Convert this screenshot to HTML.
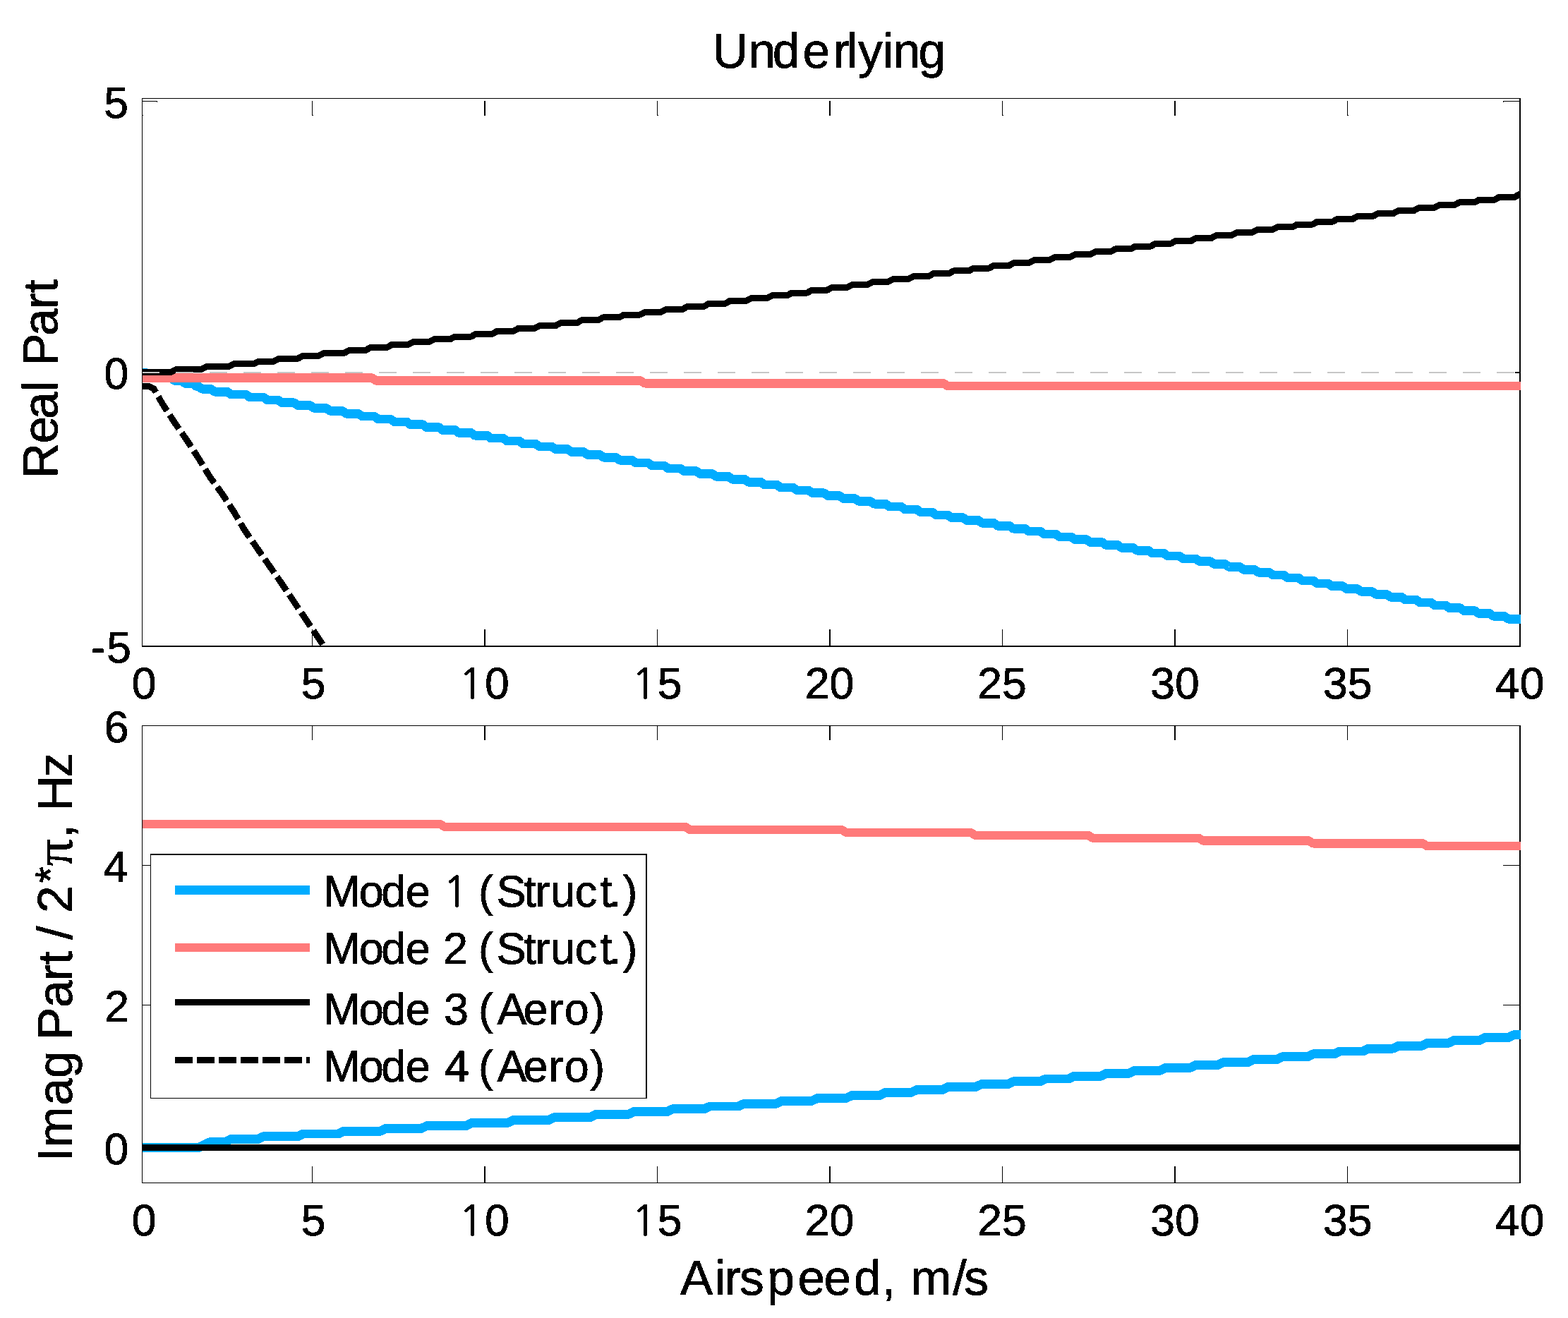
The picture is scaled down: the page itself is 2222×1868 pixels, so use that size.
<!DOCTYPE html>
<html lang="en"><head><meta charset="utf-8"><title>Underlying</title>
<style>html,body{margin:0;padding:0;background:#fff}body{width:2222px;height:1868px;overflow:hidden}svg{display:block}</style></head>
<body>
<svg width="2222" height="1868" viewBox="0 0 2222 1868" text-rendering="geometricPrecision">
<rect width="2222" height="1868" fill="#fff"/>
<defs><clipPath id="c1"><rect x="202" y="140" width="1953" height="777"/></clipPath><clipPath id="c2"><rect x="202" y="1029" width="1953" height="648"/></clipPath><filter id="bw" x="0" y="0" width="2222" height="1868" filterUnits="userSpaceOnUse" color-interpolation-filters="sRGB"><feComponentTransfer><feFuncA type="discrete" tableValues="0 1"/></feComponentTransfer></filter></defs>
<g shape-rendering="crispEdges">
<rect x="201" y="139" width="1954" height="1" fill="#000"/>
<rect x="2153" y="139" width="2" height="778" fill="#000"/>
<rect x="201" y="915" width="1954" height="2" fill="#000"/>
<rect x="442" y="143" width="1" height="21" fill="#000"/>
<rect x="442" y="892" width="1" height="23" fill="#000"/>
<rect x="686" y="143" width="2" height="21" fill="#000"/>
<rect x="686" y="892" width="2" height="23" fill="#000"/>
<rect x="931" y="143" width="1" height="21" fill="#000"/>
<rect x="931" y="892" width="1" height="23" fill="#000"/>
<rect x="1175" y="143" width="2" height="21" fill="#000"/>
<rect x="1175" y="892" width="2" height="23" fill="#000"/>
<rect x="1420" y="143" width="1" height="21" fill="#000"/>
<rect x="1420" y="892" width="1" height="23" fill="#000"/>
<rect x="1664" y="143" width="2" height="21" fill="#000"/>
<rect x="1664" y="892" width="2" height="23" fill="#000"/>
<rect x="1909" y="143" width="1" height="21" fill="#000"/>
<rect x="1909" y="892" width="1" height="23" fill="#000"/>
<rect x="202" y="163" width="1" height="1" fill="#000"/>
<rect x="443" y="163" width="1" height="1" fill="#000"/>
<rect x="932" y="163" width="1" height="1" fill="#000"/>
<rect x="1421" y="163" width="1" height="1" fill="#000"/>
<rect x="1910" y="163" width="1" height="1" fill="#000"/>
<rect x="201" y="143" width="22" height="1" fill="#000"/>
<rect x="2130" y="143" width="23" height="1" fill="#000"/>
<rect x="222" y="144" width="1" height="1" fill="#000"/>
<rect x="2130" y="144" width="1" height="1" fill="#000"/>
</g>
<g clip-path="url(#c1)" shape-rendering="crispEdges">
<polyline points="201.0,528.0 206.3,528.0 211.7,531.9 224.3,531.9 229.7,535.8 242.3,535.8 247.7,539.6 257.4,539.6 262.6,543.5 272.9,543.5 278.1,547.4 280.9,547.4 286.1,551.3 298.9,551.3 304.1,555.2 322.1,555.2 327.3,559.0 348.4,559.0 353.6,562.9 373.4,562.9 378.6,566.8 393.9,566.8 399.1,570.7 416.7,570.7 421.9,574.6 439.5,574.6 444.8,578.4 462.3,578.4 467.6,582.3 485.1,582.3 490.4,586.2 507.9,586.2 513.2,590.1 530.7,590.1 536.0,594.0 553.5,594.0 558.8,597.8 576.3,597.8 581.6,601.7 599.1,601.7 604.4,605.6 621.9,605.6 627.2,609.5 644.7,609.5 650.0,613.4 667.5,613.4 672.8,617.2 690.3,617.2 695.6,621.1 713.1,621.1 718.4,625.0 735.9,625.0 741.2,628.9 758.8,628.9 764.1,632.8 781.6,632.8 786.9,636.6 804.4,636.6 809.7,640.5 827.2,640.5 832.5,644.4 850.0,644.4 855.3,648.3 872.8,648.3 878.1,652.2 895.6,652.2 900.9,656.0 918.4,656.0 923.7,659.9 941.2,659.9 946.5,663.8 964.0,663.8 969.3,667.7 986.8,667.7 992.1,671.6 1009.6,671.6 1014.9,675.4 1032.4,675.4 1037.7,679.3 1055.2,679.3 1060.5,683.2 1078.0,683.2 1083.3,687.1 1100.8,687.1 1106.2,691.0 1123.8,691.0 1129.2,694.8 1145.7,694.8 1151.0,698.7 1167.6,698.7 1172.9,702.6 1189.5,702.6 1194.8,706.5 1211.4,706.5 1216.7,710.4 1233.3,710.4 1238.6,714.2 1255.2,714.2 1260.5,718.1 1277.1,718.1 1282.4,722.0 1299.0,722.0 1304.3,725.9 1320.9,725.9 1326.2,729.8 1342.8,729.8 1348.1,733.6 1364.7,733.6 1370.0,737.5 1386.6,737.5 1391.9,741.4 1408.5,741.4 1413.8,745.3 1430.4,745.3 1435.7,749.2 1452.3,749.2 1457.6,753.0 1474.2,753.0 1479.5,756.9 1496.1,756.9 1501.4,760.8 1518.0,760.8 1523.3,764.7 1539.9,764.7 1545.2,768.6 1561.8,768.6 1567.1,772.4 1583.7,772.4 1589.0,776.3 1605.6,776.3 1610.9,780.2 1627.5,780.2 1632.8,784.1 1649.4,784.1 1654.7,788.0 1671.2,788.0 1676.6,791.8 1694.5,791.8 1699.9,795.7 1715.4,795.7 1720.7,799.6 1736.2,799.6 1741.5,803.5 1757.0,803.5 1762.3,807.4 1777.8,807.4 1783.1,811.2 1798.6,811.2 1803.9,815.1 1819.4,815.1 1824.7,819.0 1840.2,819.0 1845.6,822.9 1861.1,822.9 1866.4,826.8 1881.9,826.8 1887.2,830.6 1902.7,830.6 1908.0,834.5 1923.5,834.5 1928.8,838.4 1944.3,838.4 1949.6,842.3 1965.1,842.3 1970.4,846.2 1986.0,846.2 1991.3,850.0 2006.8,850.0 2012.1,853.9 2027.6,853.9 2032.9,857.8 2048.4,857.8 2053.7,861.7 2069.2,861.7 2074.5,865.6 2090.0,865.6 2095.3,869.4 2110.8,869.4 2116.1,873.3 2131.7,873.3 2137.0,877.2 2156.0,877.2" fill="none" stroke="#00acff" stroke-width="12.6" stroke-linejoin="round" stroke-linecap="butt"/>
<polyline points="201.0,535.6 527.0,535.6 533.0,539.5 907.5,539.5 913.5,543.3 1337.0,543.3 1343.0,547.2 2156.0,547.2" fill="none" stroke="#ff7a7a" stroke-width="12.4" stroke-linejoin="round" stroke-linecap="butt"/>
<polyline points="201.0,527.5 242.5,527.5 249.5,523.6 285.1,523.6 292.1,519.7 323.7,519.7 330.7,515.9 359.5,515.9 366.5,512.0 388.5,512.0 395.5,508.1 422.5,508.1 429.5,504.2 452.0,504.2 459.0,500.3 488.0,500.3 495.0,496.5 518.0,496.5 525.0,492.6 547.9,492.6 554.9,488.7 577.9,488.7 584.9,484.8 607.8,484.8 614.8,480.9 637.8,480.9 644.8,477.1 667.7,477.1 674.7,473.2 697.7,473.2 704.7,469.3 727.6,469.3 734.6,465.4 757.6,465.4 764.6,461.5 787.5,461.5 794.5,457.7 817.5,457.7 824.5,453.8 847.5,453.8 854.5,449.9 877.4,449.9 884.4,446.0 907.4,446.0 914.4,442.1 937.3,442.1 944.3,438.3 967.3,438.3 974.3,434.4 997.2,434.4 1004.2,430.5 1027.2,430.5 1034.2,426.6 1057.1,426.6 1064.1,422.7 1087.1,422.7 1094.1,418.9 1115.2,418.9 1122.2,415.0 1143.8,415.0 1150.8,411.1 1172.5,411.1 1179.5,407.2 1201.1,407.2 1208.1,403.3 1229.8,403.3 1236.8,399.5 1258.4,399.5 1265.4,395.6 1287.1,395.6 1294.1,391.7 1315.7,391.7 1322.7,387.8 1344.4,387.8 1351.4,383.9 1373.0,383.9 1380.0,380.1 1401.7,380.1 1408.7,376.2 1430.3,376.2 1437.3,372.3 1459.0,372.3 1466.0,368.4 1487.6,368.4 1494.6,364.5 1516.3,364.5 1523.3,360.7 1544.9,360.7 1551.9,356.8 1573.6,356.8 1580.6,352.9 1602.2,352.9 1609.2,349.0 1630.8,349.0 1637.8,345.1 1659.5,345.1 1666.5,341.3 1688.1,341.3 1695.1,337.4 1716.8,337.4 1723.8,333.5 1745.4,333.5 1752.4,329.6 1774.1,329.6 1781.1,325.7 1802.7,325.7 1809.7,321.9 1831.4,321.9 1838.4,318.0 1860.0,318.0 1867.0,314.1 1888.7,314.1 1895.7,310.2 1917.3,310.2 1924.3,306.3 1946.0,306.3 1953.0,302.5 1974.6,302.5 1981.6,298.6 2003.3,298.6 2010.3,294.7 2031.9,294.7 2038.9,290.8 2060.6,290.8 2067.6,286.9 2089.2,286.9 2096.2,283.1 2117.9,283.1 2124.9,279.2 2146.5,279.2 2153.5,275.3 2156.0,275.3" fill="none" stroke="#000" stroke-width="9" stroke-linejoin="round" stroke-linecap="butt"/>
<polyline points="201.0,547.0 211.0,547.5 218.0,551.0 230.3,572.5 247.2,598.6 264.7,623.7 281.5,649.7 297.6,676.2 315.5,700.9 331.9,726.2 346.6,751.3 400.2,828.5 458.4,915.0 465.0,925.0" fill="none" stroke="#000" stroke-width="9" stroke-linejoin="round" stroke-linecap="butt" stroke-dasharray="23.6 7"/>
</g>
<g shape-rendering="crispEdges">
<rect x="202" y="527" width="24" height="2" fill="#c6c6c6"/>
<rect x="249" y="527" width="25" height="2" fill="#c6c6c6"/>
<rect x="297" y="527" width="25" height="2" fill="#c6c6c6"/>
<rect x="345" y="527" width="25" height="2" fill="#c6c6c6"/>
<rect x="393" y="527" width="25" height="2" fill="#c6c6c6"/>
<rect x="441" y="527" width="25" height="2" fill="#c6c6c6"/>
<rect x="489" y="527" width="25" height="2" fill="#c6c6c6"/>
<rect x="537" y="527" width="25" height="2" fill="#c6c6c6"/>
<rect x="585" y="527" width="25" height="2" fill="#c6c6c6"/>
<rect x="633" y="527" width="25" height="2" fill="#c6c6c6"/>
<rect x="681" y="527" width="25" height="2" fill="#c6c6c6"/>
<rect x="729" y="527" width="25" height="2" fill="#c6c6c6"/>
<rect x="777" y="527" width="25" height="2" fill="#c6c6c6"/>
<rect x="825" y="527" width="25" height="2" fill="#c6c6c6"/>
<rect x="873" y="527" width="25" height="2" fill="#c6c6c6"/>
<rect x="921" y="527" width="25" height="2" fill="#c6c6c6"/>
<rect x="969" y="527" width="25" height="2" fill="#c6c6c6"/>
<rect x="1017" y="527" width="25" height="2" fill="#c6c6c6"/>
<rect x="1065" y="527" width="25" height="2" fill="#c6c6c6"/>
<rect x="1113" y="527" width="25" height="2" fill="#c6c6c6"/>
<rect x="1161" y="527" width="25" height="2" fill="#c6c6c6"/>
<rect x="1209" y="527" width="25" height="2" fill="#c6c6c6"/>
<rect x="1257" y="527" width="25" height="2" fill="#c6c6c6"/>
<rect x="1305" y="527" width="25" height="2" fill="#c6c6c6"/>
<rect x="1353" y="527" width="25" height="2" fill="#c6c6c6"/>
<rect x="1401" y="527" width="25" height="2" fill="#c6c6c6"/>
<rect x="1449" y="527" width="25" height="2" fill="#c6c6c6"/>
<rect x="1497" y="527" width="25" height="2" fill="#c6c6c6"/>
<rect x="1545" y="527" width="25" height="2" fill="#c6c6c6"/>
<rect x="1593" y="527" width="25" height="2" fill="#c6c6c6"/>
<rect x="1641" y="527" width="25" height="2" fill="#c6c6c6"/>
<rect x="1689" y="527" width="25" height="2" fill="#c6c6c6"/>
<rect x="1737" y="527" width="25" height="2" fill="#c6c6c6"/>
<rect x="1785" y="527" width="25" height="2" fill="#c6c6c6"/>
<rect x="1833" y="527" width="25" height="2" fill="#c6c6c6"/>
<rect x="1881" y="527" width="25" height="2" fill="#c6c6c6"/>
<rect x="1929" y="527" width="25" height="2" fill="#c6c6c6"/>
<rect x="1977" y="527" width="25" height="2" fill="#c6c6c6"/>
<rect x="2025" y="527" width="25" height="2" fill="#c6c6c6"/>
<rect x="2073" y="527" width="25" height="2" fill="#c6c6c6"/>
<rect x="2121" y="527" width="25" height="2" fill="#c6c6c6"/>
<rect x="2147" y="527" width="6" height="2" fill="#000"/>
<rect x="201" y="139" width="1" height="778" fill="#000"/>
</g>
<g shape-rendering="crispEdges">
<rect x="201" y="1028" width="1954" height="1" fill="#000"/>
<rect x="2153" y="1028" width="2" height="649" fill="#000"/>
<rect x="201" y="1676" width="1954" height="1" fill="#000"/>
<rect x="442" y="1028" width="1" height="21" fill="#000"/>
<rect x="442" y="1653" width="1" height="23" fill="#000"/>
<rect x="686" y="1028" width="2" height="21" fill="#000"/>
<rect x="686" y="1653" width="2" height="23" fill="#000"/>
<rect x="931" y="1028" width="1" height="21" fill="#000"/>
<rect x="931" y="1653" width="1" height="23" fill="#000"/>
<rect x="1175" y="1028" width="2" height="21" fill="#000"/>
<rect x="1175" y="1653" width="2" height="23" fill="#000"/>
<rect x="1420" y="1028" width="1" height="21" fill="#000"/>
<rect x="1420" y="1653" width="1" height="23" fill="#000"/>
<rect x="1664" y="1028" width="2" height="21" fill="#000"/>
<rect x="1664" y="1653" width="2" height="23" fill="#000"/>
<rect x="1909" y="1028" width="1" height="21" fill="#000"/>
<rect x="1909" y="1653" width="1" height="23" fill="#000"/>
<rect x="201" y="1226" width="22" height="1" fill="#000"/>
<rect x="2130" y="1226" width="23" height="1" fill="#000"/>
<rect x="201" y="1424" width="22" height="1" fill="#000"/>
<rect x="2130" y="1424" width="23" height="1" fill="#000"/>
</g>
<g clip-path="url(#c2)" shape-rendering="crispEdges">
<polyline points="201.0,1626.5 281.5,1626.5 289.5,1622.6 289.5,1622.6 297.5,1618.7 318.5,1618.7 326.5,1614.8 365.0,1614.8 373.0,1610.9 421.5,1610.9 429.5,1607.0 479.6,1607.0 487.6,1603.1 539.5,1603.1 547.5,1599.2 597.5,1599.2 605.5,1595.3 661.0,1595.3 669.0,1591.4 719.5,1591.4 727.5,1587.5 777.6,1587.5 785.6,1583.6 836.0,1583.6 844.0,1579.7 889.7,1579.7 897.7,1575.8 944.6,1575.8 952.6,1571.9 998.0,1571.9 1006.0,1568.0 1046.8,1568.0 1054.8,1564.1 1100.2,1564.1 1108.2,1560.2 1150.6,1560.2 1158.6,1556.3 1199.4,1556.3 1207.4,1552.4 1246.6,1552.4 1254.6,1548.5 1291.0,1548.5 1299.0,1544.6 1335.0,1544.6 1343.0,1540.7 1382.4,1540.7 1390.4,1536.8 1428.0,1536.8 1436.0,1532.9 1474.0,1532.9 1482.0,1529.0 1514.3,1529.0 1522.3,1525.1 1560.5,1525.1 1568.5,1521.2 1599.8,1521.2 1607.8,1517.3 1643.8,1517.3 1651.8,1513.4 1686.3,1513.4 1694.3,1509.5 1725.6,1509.5 1733.6,1505.6 1768.1,1505.6 1776.1,1501.7 1809.0,1501.7 1817.0,1497.8 1853.0,1497.8 1861.0,1493.9 1890.8,1493.9 1898.8,1490.0 1931.7,1490.0 1939.7,1486.1 1974.1,1486.1 1982.1,1482.2 2015.0,1482.2 2023.0,1478.3 2052.8,1478.3 2060.8,1474.4 2096.8,1474.4 2104.8,1470.5 2137.7,1470.5 2145.7,1466.6 2156.0,1466.6" fill="none" stroke="#00acff" stroke-width="12.9" stroke-linejoin="round" stroke-linecap="butt"/>
<polyline points="201.0,1168.1 624.0,1168.1 630.0,1172.0 971.6,1172.0 977.6,1175.9 1192.7,1175.9 1198.7,1179.8 1375.5,1179.8 1381.5,1183.7 1542.0,1183.7 1548.0,1187.6 1698.6,1187.6 1704.6,1191.5 1854.8,1191.5 1860.8,1195.4 2016.4,1195.4 2022.4,1199.3 2156.0,1199.3" fill="none" stroke="#ff7a7a" stroke-width="12.2" stroke-linejoin="round" stroke-linecap="butt"/>
<polyline points="201.0,1626.5 2155.0,1626.5" fill="none" stroke="#000" stroke-width="9" stroke-linejoin="round" stroke-linecap="butt"/>
</g>
<g shape-rendering="crispEdges">
<rect x="201" y="1028" width="1" height="649" fill="#000"/>
<rect x="213" y="1210" width="704" height="347" fill="#000"/>
<rect x="214" y="1212" width="701" height="344" fill="#fff"/>
<rect x="248" y="1255" width="191" height="13" fill="#00acff"/>
<rect x="248" y="1337" width="191" height="12" fill="#ff7a7a"/>
<rect x="248" y="1416" width="191" height="9" fill="#000"/>
<rect x="248" y="1498" width="24.5" height="9" fill="#000"/>
<rect x="279" y="1498" width="24.5" height="9" fill="#000"/>
<rect x="310" y="1498" width="24.5" height="9" fill="#000"/>
<rect x="341" y="1498" width="24.5" height="9" fill="#000"/>
<rect x="372" y="1498" width="24.5" height="9" fill="#000"/>
<rect x="403" y="1498" width="24.5" height="9" fill="#000"/>
<rect x="434" y="1498" width="5" height="9" fill="#000"/>
</g>
<g fill="#000" stroke="#000" stroke-width="0.8" stroke-linejoin="round" filter="url(#bw)">
<text x="1009.7 1060.6 1094.8 1137.6 1180.8 1199.7 1216.0 1250.9 1265.6 1301.6" y="95.7" font-family='"Liberation Sans", sans-serif' font-size="69.5">Underlying</text>
<text x="964.1 1013.3 1026.8 1048.1 1087.2 1130.4 1167.4 1209.9 1250.0 1270.8 1290.2 1350.3 1366.3" y="1835.4" font-family='"Liberation Sans", sans-serif' font-size="69.5">Airspeed, m/s</text>
<text x="186.8" y="990.3" font-family='"Liberation Sans", sans-serif' font-size="62.5">0</text>
<text x="186.8" y="1750.6" font-family='"Liberation Sans", sans-serif' font-size="62.5">0</text>
<text x="426.8" y="990.3" font-family='"Liberation Sans", sans-serif' font-size="62.5">5</text>
<text x="426.8" y="1750.6" font-family='"Liberation Sans", sans-serif' font-size="62.5">5</text>
<text x="650.1" y="990.3" font-family='"NanumGothic", "Liberation Sans", sans-serif' font-size="59">1</text>
<text x="686.9" y="990.3" font-family='"Liberation Sans", sans-serif' font-size="62.5">0</text>
<text x="650.1" y="1750.6" font-family='"NanumGothic", "Liberation Sans", sans-serif' font-size="59">1</text>
<text x="686.9" y="1750.6" font-family='"Liberation Sans", sans-serif' font-size="62.5">0</text>
<text x="895.1" y="990.3" font-family='"NanumGothic", "Liberation Sans", sans-serif' font-size="59">1</text>
<text x="931.7" y="990.3" font-family='"Liberation Sans", sans-serif' font-size="62.5">5</text>
<text x="895.1" y="1750.6" font-family='"NanumGothic", "Liberation Sans", sans-serif' font-size="59">1</text>
<text x="931.7" y="1750.6" font-family='"Liberation Sans", sans-serif' font-size="62.5">5</text>
<text x="1140.7" y="990.3" font-family='"Liberation Sans", sans-serif' font-size="62.5">20</text>
<text x="1140.7" y="1750.6" font-family='"Liberation Sans", sans-serif' font-size="62.5">20</text>
<text x="1385.3" y="990.3" font-family='"Liberation Sans", sans-serif' font-size="62.5">25</text>
<text x="1385.3" y="1750.6" font-family='"Liberation Sans", sans-serif' font-size="62.5">25</text>
<text x="1630.3" y="990.3" font-family='"Liberation Sans", sans-serif' font-size="62.5">30</text>
<text x="1630.3" y="1750.6" font-family='"Liberation Sans", sans-serif' font-size="62.5">30</text>
<text x="1875.1" y="990.3" font-family='"Liberation Sans", sans-serif' font-size="62.5">35</text>
<text x="1875.1" y="1750.6" font-family='"Liberation Sans", sans-serif' font-size="62.5">35</text>
<text x="2119.0" y="990.3" font-family='"Liberation Sans", sans-serif' font-size="62.5">40</text>
<text x="2119.0" y="1750.6" font-family='"Liberation Sans", sans-serif' font-size="62.5">40</text>
<text x="147.3" y="167.4" font-family='"Liberation Sans", sans-serif' font-size="62.5">5</text>
<text x="147.5" y="551" font-family='"Liberation Sans", sans-serif' font-size="62.5">0</text>
<text x="151.2" y="939" font-family='"Liberation Sans", sans-serif' font-size="62.5">5</text>
<text x="128.6" y="939" font-family='"Liberation Sans", sans-serif' font-size="62.5">-</text>
<text x="147.8" y="1052.3" font-family='"Liberation Sans", sans-serif' font-size="62.5">6</text>
<text x="146.8" y="1250.3" font-family='"Liberation Sans", sans-serif' font-size="62.5">4</text>
<text x="148.3" y="1447.9" font-family='"Liberation Sans", sans-serif' font-size="62.5">2</text>
<text x="147.6" y="1650.3" font-family='"Liberation Sans", sans-serif' font-size="62.5">0</text>
<text transform="translate(81.3 680) rotate(-90)" x="2.1 51.5 86.0 125.1 146.0 161.3 203.9 241.9 264.8" y="0" font-family='"Liberation Sans", sans-serif' font-size="69.5">Real Part</text>
<text transform="translate(101.8 1650) rotate(-90)" y="0" font-family='"Liberation Sans", sans-serif' font-size="69.5"><tspan x="4.1 23.8 83.2 121.9 142.7 175.9 222.0 259.9 282.7 303.6 318.2 339.0 356.1">Imag Part / 2</tspan><tspan x="398.5" dy="-10.4" font-size="60">*</tspan><tspan x="422.8" dy="10.4" font-family='"Liberation Serif", "DejaVu Serif", serif' font-size="76">π</tspan><tspan x="462.2 483.0 500.8 548.2">, Hz</tspan></text>
<text y="1284.9" font-family='"Liberation Sans", sans-serif' font-size="63"><tspan x="458.2 508.7 540.2 574.8 593.7">Mode </tspan><tspan x="627.8" font-family='"NanumGothic", "Liberation Sans", sans-serif' font-size="59.5">1</tspan><tspan x="648.4 678.0 703.4 742.3 758.2 780.2 814.7 850.2 863.0 882.5"> (Struct.)</tspan></text>
<text x="458.2 508.7 540.2 574.8 593.7 628.1 647.0 678.0 703.4 742.3 758.2 780.2 814.7 850.2 863.0 882.5" y="1365.8" font-family='"Liberation Sans", sans-serif' font-size="63">Mode 2 (Struct.)</text>
<text x="458.2 508.7 540.2 574.8 593.7 628.9 647.8 678.0 704.4 741.6 777.2 799.7 836.2" y="1451.8" font-family='"Liberation Sans", sans-serif' font-size="63">Mode 3 (Aero)</text>
<text x="458.2 508.7 540.2 574.8 593.7 629.9 648.8 678.0 704.4 741.6 777.2 799.7 836.2" y="1532.8" font-family='"Liberation Sans", sans-serif' font-size="63">Mode 4 (Aero)</text>
</g>
</svg>
</body></html>
